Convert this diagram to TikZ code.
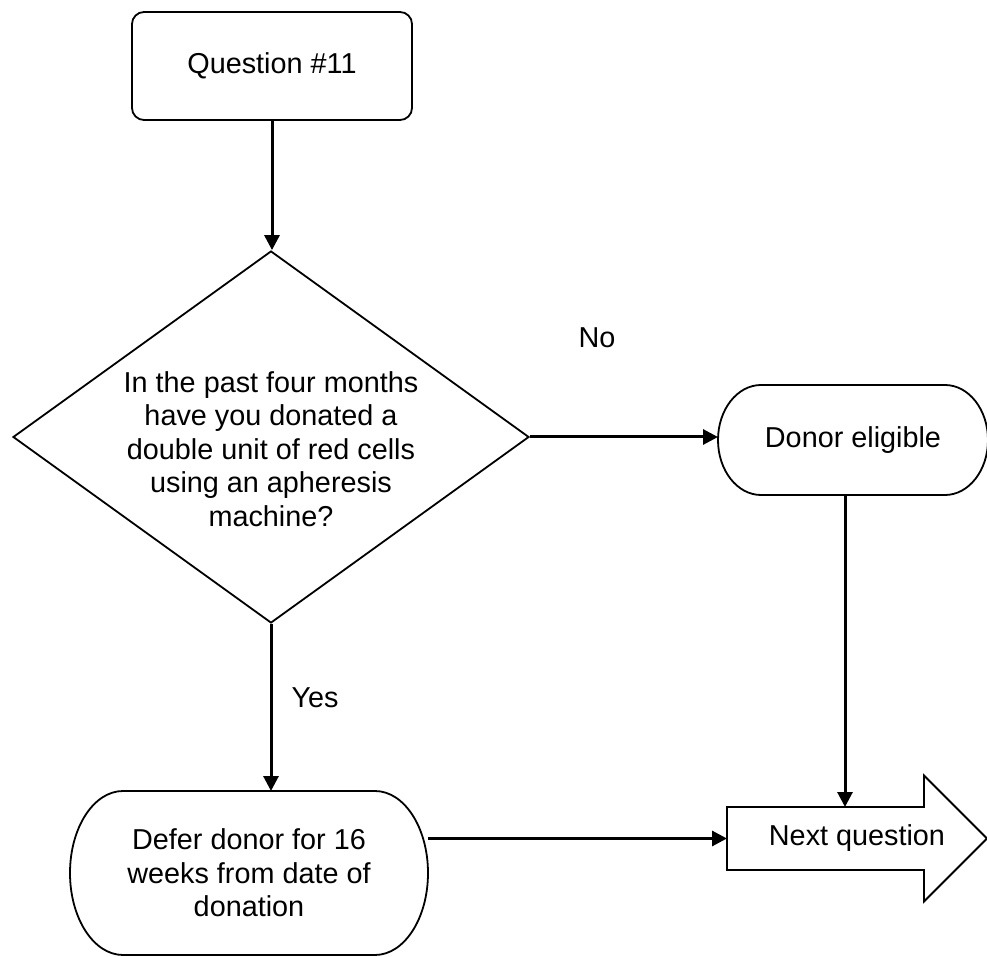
\documentclass[tikz,border=0pt]{standalone}
\usepackage{fontspec}
\setmainfont{Liberation Sans}
\usepackage{tikz}
\usetikzlibrary{shapes,arrows.meta}
\tikzstyle{connector} = [line width=1.5pt,-{Triangle[length=7.5pt,width=7.5pt]}]
\tikzstyle{outline} = [draw,line width=0.9pt]
\tikzstyle{terminal} = [align=center,inner sep=0pt,outer sep=0pt]
\tikzstyle{answer} = [inner sep=1pt]
% outline of a terminator: node, x radius, y radius
\newcommand{\terminator}[3]{%
  \draw[outline] ([xshift=#2]#1.north west) -- ([xshift=-#2]#1.north east)
    arc[start angle=90,end angle=-90,x radius=#2,y radius=#3]
    -- ([xshift=#2]#1.south west)
    arc[start angle=270,end angle=90,x radius=#2,y radius=#3] -- cycle;}

\begin{document}
\begin{tikzpicture}[x=0.5pt,y=-0.5pt,font=\fontsize{14.4}{16.75}\selectfont]
\useasboundingbox (0,0) rectangle (987,957);
\node[outline,rounded corners=6pt,minimum width=140pt,minimum height=54pt]
    (question) at (272,66) {Question \#11};
\node[outline,diamond,aspect=1.39,inner sep=0pt,
    minimum width=258pt,minimum height=186pt,
    label={[align=center,yshift=-6pt]center:{In the past four months\\have you donated a\\double unit of red cells\\using an apheresis\\machine?}}]
    (decision) at (271,437) {};
\node[terminal,minimum width=135pt,minimum height=55pt]
    (eligible) at (853,440) {Donor eligible};
\terminator{eligible}{21.5pt}{27.5pt}
\node[terminal,minimum width=179pt,minimum height=82pt]
    (defer) at (249,873) {Defer donor for 16\\weeks from date of\\donation};
\terminator{defer}{26.5pt}{41pt}
\node[terminal,minimum width=130pt,minimum height=31.5pt]
    (next) at (857,838.5) {Next question};
\draw[outline] (next.north west) -- ([xshift=-31.5pt]next.north east)
    -- ([xshift=-31.5pt,yshift=15.75pt]next.north east) -- (next.east)
    -- ([xshift=-31.5pt,yshift=-15.75pt]next.south east)
    -- ([xshift=-31.5pt]next.south east) -- (next.south west) -- cycle;

\node[answer] (no) at (597,338) {No};
\node[answer] (yes) at (315,698) {Yes};

\draw[connector] (question.south) -- (question.south |- decision.north);
\draw[connector] (decision.east) -- (decision.east -| eligible.west);
\draw[connector] (decision.south) -- (decision.south |- defer.north);
\draw[connector] (defer.east |- next.west) -- (next.west);
\draw[connector] ([xshift=-4pt]eligible.south) -- ([xshift=-4pt]eligible.south |- next.north);
\end{tikzpicture}
\end{document}
